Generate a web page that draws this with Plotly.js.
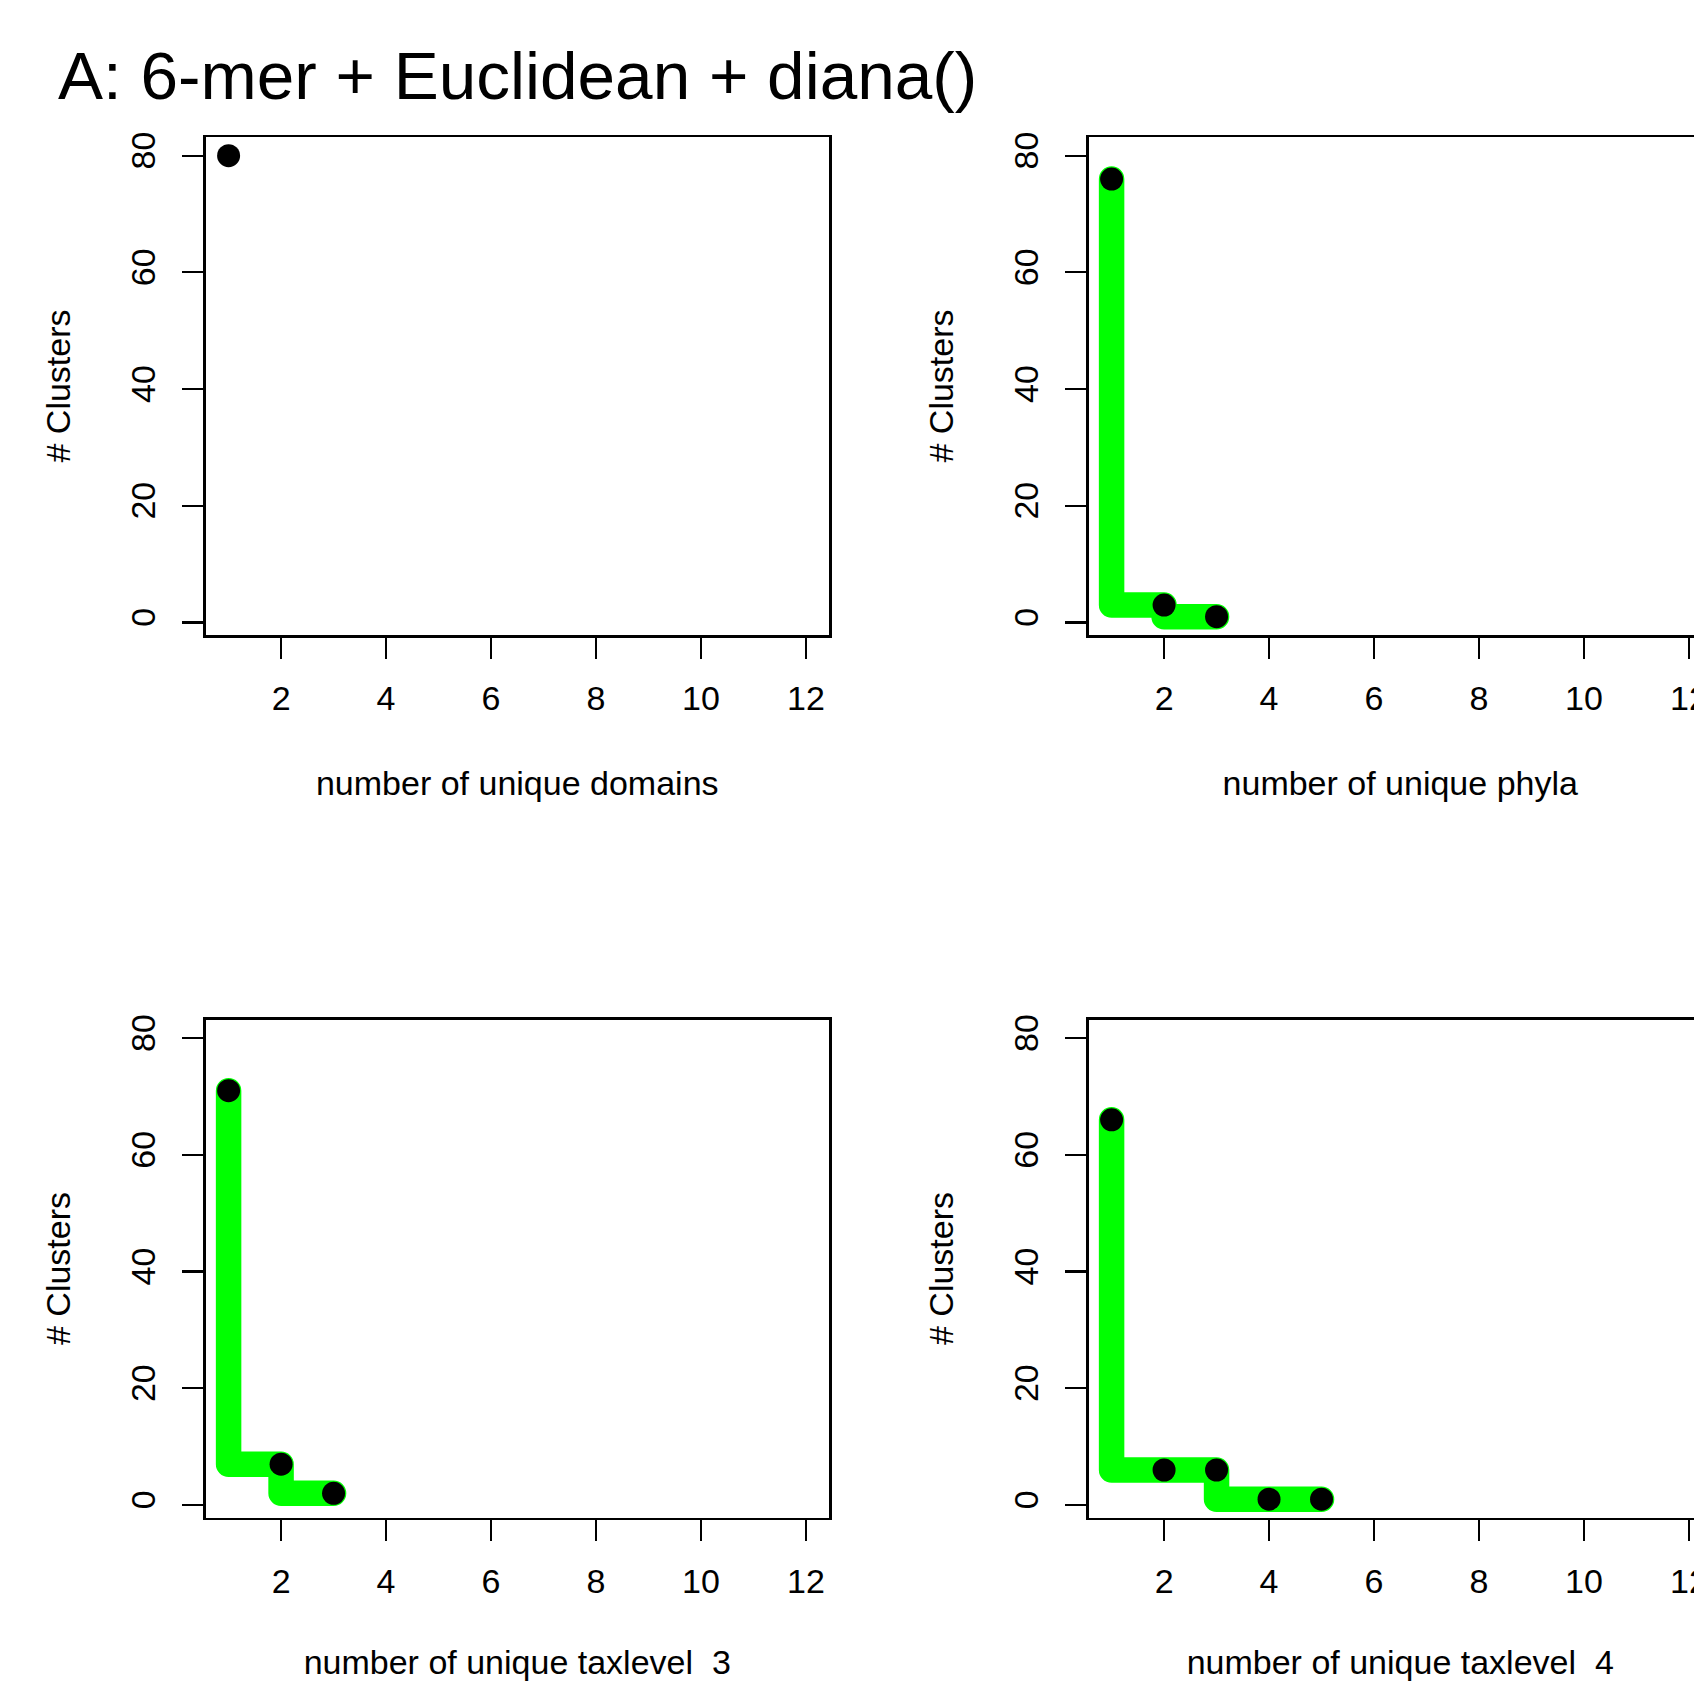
<!DOCTYPE html>
<html>
<head>
<meta charset="utf-8">
<script src="https://cdn.plot.ly/plotly-3.0.1.min.js"></script>
<style>
  html, body { margin: 0; padding: 0; overflow: hidden; background: #ffffff; }
  #chart { width: 1740px; height: 1681px; }
</style>
</head>
<body>
<div id="chart"></div>
<script>
// ---- data ----
const chartTitle = "A: 6-mer + Euclidean + diana()";
const yTitle = "# Clusters";

const domainsX = [1];
const domainsY = [80];

const phylaX = [1, 2, 3];
const phylaY = [76, 3, 1];

const tax3X = [1, 2, 3];
const tax3Y = [71, 7, 2];

const tax4X = [1, 2, 3, 4, 5];
const tax4Y = [66, 6, 6, 1, 1];

const xTitles = [
  "number of unique domains",
  "number of unique phyla",
  "number of unique taxlevel\u00a0 3",
  "number of unique taxlevel\u00a0 4"
];
const xTickVals = [2, 4, 6, 8, 10, 12];
const yTickVals = [0, 20, 40, 60, 80];

// ---- page geometry ----
const W = 1740, H = 1681;
const FONT = "Liberation Sans, Arial, Helvetica, sans-serif";
const fs = 34;

const colL = [205.5, 829];
const colR = [1088.5, 1712];
const rowT = [137, 635];
const rowB = [1019.5, 1517.5];

function xd(c) { return [c[0] / W, c[1] / W]; }
function yd(r) { return [(H - r[1]) / H, (H - r[0]) / H]; }

function xAxis(dom, yAnchor, title) {
  return {
    domain: xd(dom), anchor: yAnchor,
    range: [0.56, 12.44], autorange: false,
    tickmode: "array", tickvals: xTickVals,
    ticks: "outside", ticklen: 21, tickwidth: 2.2, tickcolor: "#000",
    showline: true, mirror: true, linecolor: "#000", linewidth: 2.5,
    showgrid: false, zeroline: false,
    tickfont: { family: FONT, size: fs, color: "#000" },
    ticklabelstandoff: 11,
    title: { text: title, font: { family: FONT, size: fs, color: "#000" }, standoff: 55 },
    automargin: false, fixedrange: true
  };
}
function yAxis(dom, xAnchor) {
  return {
    domain: yd(dom), anchor: xAnchor,
    range: [-2.14, 83.2], autorange: false,
    tickmode: "array", tickvals: yTickVals, tickangle: -90,
    ticks: "outside", ticklen: 21, tickwidth: 2.2, tickcolor: "#000",
    showline: true, mirror: true, linecolor: "#000", linewidth: 2.5,
    showgrid: false, zeroline: false,
    tickfont: { family: FONT, size: fs, color: "#000" },
    ticklabelstandoff: 13,
    title: { text: yTitle, font: { family: FONT, size: fs, color: "#000" }, standoff: 44 },
    automargin: false, fixedrange: true
  };
}

function series(x, y, xa, ya) {
  return {
    type: "scatter", mode: "lines+markers",
    x: x, y: y, xaxis: xa, yaxis: ya,
    line: { color: "#00ff00", width: 25.5, shape: "vh" },
    marker: { color: "#000000", size: 23, line: { width: 0 } },
    cliponaxis: false, hoverinfo: "skip", showlegend: false
  };
}

const data = [
  series(domainsX, domainsY, "x", "y"),
  series(phylaX, phylaY, "x2", "y2"),
  series(tax3X, tax3Y, "x3", "y3"),
  series(tax4X, tax4Y, "x4", "y4")
];

const layout = {
  width: W, height: H,
  margin: { l: 0, r: 0, t: 0, b: 0 },
  paper_bgcolor: "#ffffff", plot_bgcolor: "#ffffff",
  showlegend: false,
  title: {
    text: chartTitle,
    font: { family: FONT, size: 67.5, color: "#000" },
    x: 58 / W, xanchor: "left", xref: "paper",
    y: 1 - 75 / H, yanchor: "middle", yref: "container"
  },
  xaxis: xAxis(colL, "y", xTitles[0]),
  yaxis: yAxis(rowT, "x"),
  xaxis2: xAxis(colR, "y2", xTitles[1]),
  yaxis2: yAxis(rowT, "x2"),
  xaxis3: xAxis(colL, "y3", xTitles[2]),
  yaxis3: yAxis(rowB, "x3"),
  xaxis4: xAxis(colR, "y4", xTitles[3]),
  yaxis4: yAxis(rowB, "x4")
};

Plotly.newPlot("chart", data, layout, { staticPlot: true, displayModeBar: false }).then(function () {
  document.querySelectorAll(".scatterlayer .js-line").forEach(function (p) {
    p.style.strokeLinecap = "round";
    p.style.strokeLinejoin = "round";
  });
});
</script>
</body>
</html>
